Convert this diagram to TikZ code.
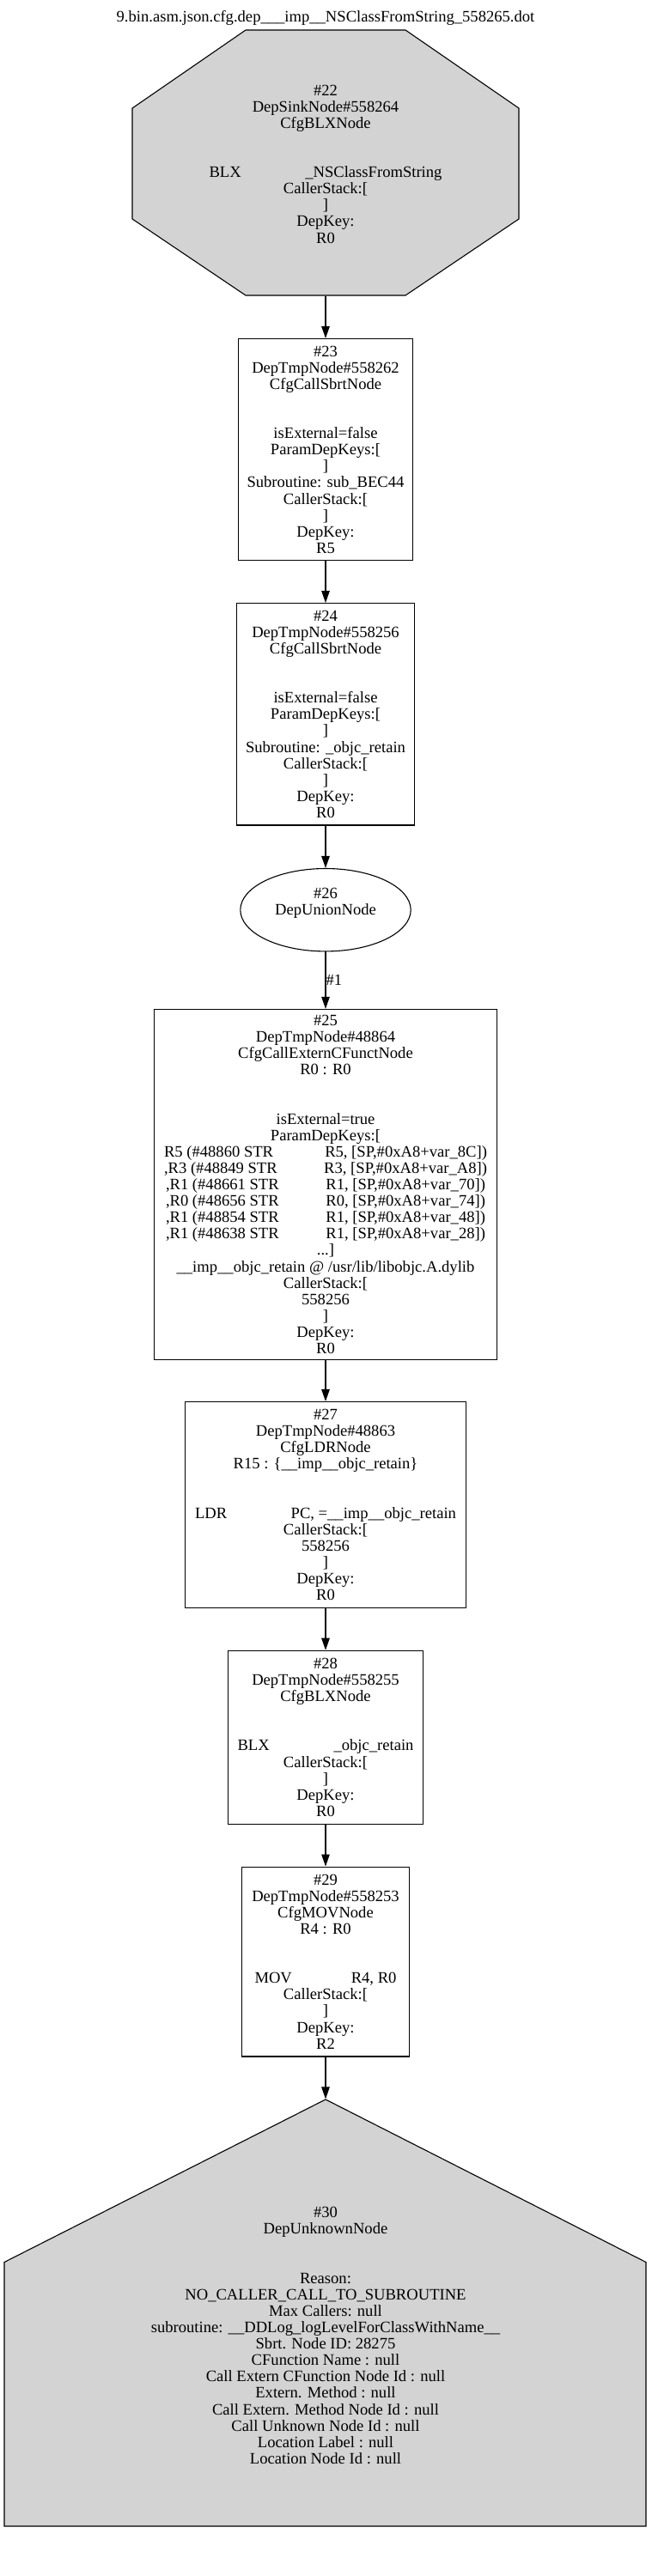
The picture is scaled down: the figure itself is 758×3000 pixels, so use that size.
\documentclass[tikz,border=0pt]{standalone}
\usepackage{fontspec}
\setmainfont{Liberation Serif}
\usetikzlibrary{arrows.meta,shapes.geometric}
\definecolor{sinkgrey}{RGB}{211,211,211}
\newcommand{\tabline}[3]{\makebox[#1pt]{#2\hfill #3}}

\begin{document}
\begin{tikzpicture}[->,>={Triangle[length=14pt,width=9.5pt]},x=1pt,y=-1pt,line width=1.1pt,
   every node/.style={font=\fontsize{18.6}{19.1}\selectfont,align=center,inner sep=0pt},
   tmpbox/.style={draw,rectangle},
   greyshape/.style={draw,fill=sinkgrey,-}]
   \useasboundingbox (0,0) rectangle (758,3000);

   \node[anchor=base] (title) at (379,26) {9.bin.asm.json.cfg.dep\_\_\_imp\_\_NSClassFromString\_558265.dot};

   \filldraw[greyshape] (286,35) -- (472,35) -- (604,126) -- (604,255) -- (472,344) -- (286,344) -- (154,255) -- (154,126) -- cycle;
   \node[minimum width=450pt,minimum height=306pt] (a22) at (379,191) {\#22\\DepSinkNode\#558264\\CfgBLXNode\\ \mbox{}\\ \mbox{}\\ \tabline{271}{BLX}{\_NSClassFromString}\\CallerStack:[\\ ]\\DepKey:\\R0};

   \node[tmpbox,minimum width=202.6pt,minimum height=258.4pt] (a23) at (379,523.7) {\#23\\DepTmpNode\#558262\\CfgCallSbrtNode\\ \mbox{}\\ \mbox{}\\isExternal=false\\ParamDepKeys:[\\ ]\\Subroutine: sub\_BEC44\\CallerStack:[\\ ]\\DepKey:\\R5};

   \node[tmpbox,minimum width=206.6pt,minimum height=258.4pt] (a24) at (379,831.8) {\#24\\DepTmpNode\#558256\\CfgCallSbrtNode\\ \mbox{}\\ \mbox{}\\isExternal=false\\ParamDepKeys:[\\ ]\\Subroutine: \_objc\_retain\\CallerStack:[\\ ]\\DepKey:\\R0};

   \node[ellipse,draw,minimum width=198.4pt,minimum height=96.4pt] (a26) at (379,1059.7) {\#26\\DepUnionNode\\ \mbox{}};

   \node[tmpbox,minimum width=398.3pt,minimum height=408.3pt] (a25) at (379,1379.5) {\#25\\DepTmpNode\#48864\\CfgCallExternCFunctNode\\R0 : R0\\ \mbox{}\\ \mbox{}\\isExternal=true\\ParamDepKeys:[\\
      \tabline{376}{R5 (\#48860 STR}{R5, [SP,\#0xA8+var\_8C])}\\
      \tabline{376}{,R3 (\#48849 STR}{R3, [SP,\#0xA8+var\_A8])}\\
      \tabline{372}{,R1 (\#48661 STR}{R1, [SP,\#0xA8+var\_70])}\\
      \tabline{372}{,R0 (\#48656 STR}{R0, [SP,\#0xA8+var\_74])}\\
      \tabline{372}{,R1 (\#48854 STR}{R1, [SP,\#0xA8+var\_48])}\\
      \tabline{372}{,R1 (\#48638 STR}{R1, [SP,\#0xA8+var\_28])}\\
      ...]\\\_\_imp\_\_objc\_retain @ /usr/lib/libobjc.A.dylib\\CallerStack:[\\558256\\ ]\\DepKey:\\R0};

   \node[tmpbox,minimum width=326.6pt,minimum height=240pt] (a27) at (379,1752.5) {\#27\\DepTmpNode\#48863\\CfgLDRNode\\R15 : \{\_\_imp\_\_objc\_retain\}\\ \mbox{}\\ \mbox{}\\ \tabline{304}{LDR}{PC, =\_\_imp\_\_objc\_retain}\\CallerStack:[\\558256\\ ]\\DepKey:\\R0};

   \node[tmpbox,minimum width=226.6pt,minimum height=202.1pt] (a28) at (379,2023.3) {\#28\\DepTmpNode\#558255\\CfgBLXNode\\ \mbox{}\\ \mbox{}\\ \tabline{205}{BLX}{\_objc\_retain}\\CallerStack:[\\ ]\\DepKey:\\R0};

   \node[tmpbox,minimum width=194.2pt,minimum height=220.9pt] (a29) at (379,2284.5) {\#29\\DepTmpNode\#558253\\CfgMOVNode\\R4 : R0\\ \mbox{}\\ \mbox{}\\ \tabline{165}{MOV}{R4, R0}\\CallerStack:[\\ ]\\DepKey:\\R2};

   \filldraw[greyshape] (379,2445) -- (752,2634.5) -- (752,2942) -- (5,2942) -- (5,2634.5) -- cycle;
   \node[minimum width=747pt,minimum height=550pt] (a30) at (379,2720) {\#30\\DepUnknownNode\\ \mbox{}\\ \mbox{}\\Reason:\\NO\_CALLER\_CALL\_TO\_SUBROUTINE\\Max Callers: null\\subroutine: \_\_DDLog\_logLevelForClassWithName\_\_\\Sbrt. Node ID: 28275\\CFunction Name : null\\Call Extern CFunction Node Id : null\\Extern. Method : null\\Call Extern. Method Node Id : null\\Call Unknown Node Id : null\\Location Label : null\\Location Node Id : null};

   \path (a22) edge (a23);
   \path (a23) edge (a24);
   \path (a24) edge (a26);
   \path (a26) edge node[right] {\#1} (a25);
   \path (a25) edge (a27);
   \path (a27) edge (a28);
   \path (a28) edge (a29);
   \path (a29) edge (a30);

\end{tikzpicture}
\end{document}
